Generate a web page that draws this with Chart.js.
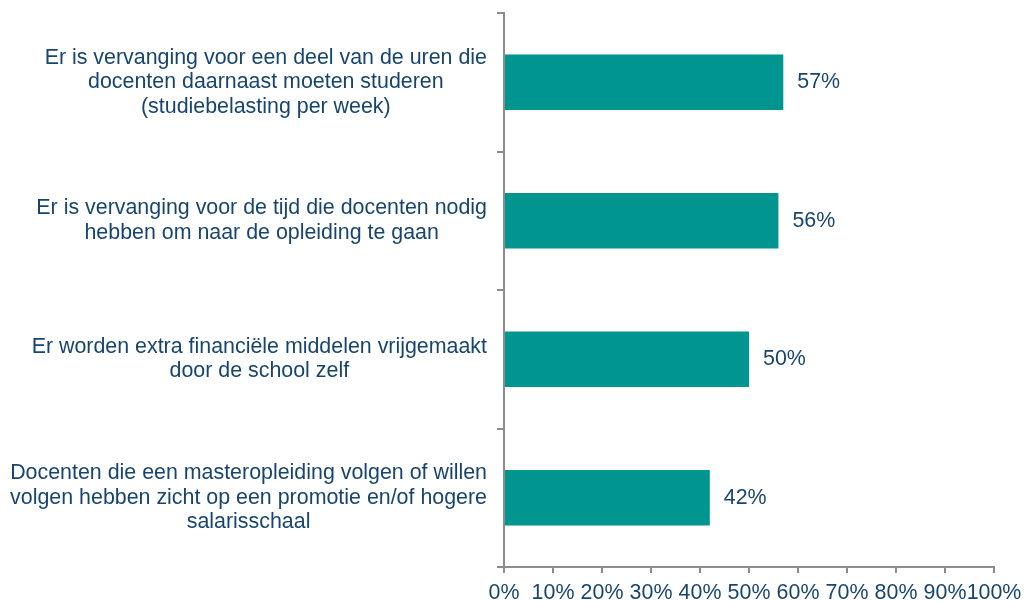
<!DOCTYPE html>
<html>
<head>
<meta charset="utf-8">
<script src="https://cdn.jsdelivr.net/npm/chart.js@4"></script>
<style>
  html, body { margin: 0; padding: 0; background: #fff; }
  #wrap { width: 1024px; height: 601px; }
</style>
</head>
<body>
<div id="wrap"><canvas id="chart" width="1024" height="601"></canvas></div>
<script>
// Statements (one per bar) and the share that agrees
const labels = [
  ['Er is vervanging voor een deel van de uren die', 'docenten daarnaast moeten studeren', '(studiebelasting per week)'],
  ['Er is vervanging voor de tijd die docenten nodig', 'hebben om naar de opleiding te gaan'],
  ['Er worden extra financiële middelen vrijgemaakt', 'door de school zelf'],
  ['Docenten die een masteropleiding volgen of willen', 'volgen hebben zicht op een promotie en/of hogere', 'salarisschaal']
];
const values = [57, 56, 50, 42];
const xTicks = [0, 10, 20, 30, 40, 50, 60, 70, 80, 90, 100];

const TEXT = '#17456F';
const BAR = '#00968F';
const AXIS = '#8C8C8C';
const FONT = '"Liberation Sans", Arial, sans-serif';
const SIZE = 21.4;

// draws the centred multi-line category labels left of the axis
const catLabels = {
  id: 'catLabels',
  afterDraw(chart) {
    const ctx = chart.ctx;
    const y = chart.scales.y;
    const right = y.right - 17;
    const lh = 24.5;
    ctx.save();
    ctx.font = SIZE + 'px ' + FONT;
    ctx.fillStyle = TEXT;
    ctx.textAlign = 'center';
    ctx.textBaseline = 'middle';
    labels.forEach((lines, i) => {
      const maxW = Math.max(...lines.map(l => ctx.measureText(l).width));
      const cx = right - maxW / 2;
      const cy = y.getPixelForValue(i);
      lines.forEach((l, k) => {
        ctx.fillText(l, cx, cy + (k - (lines.length - 1) / 2) * lh);
      });
    });
    ctx.restore();
  }
};

// value labels right of each bar
const valueLabels = {
  id: 'valueLabels',
  afterDatasetsDraw(chart) {
    const ctx = chart.ctx;
    const meta = chart.getDatasetMeta(0);
    ctx.save();
    ctx.font = SIZE + 'px ' + FONT;
    ctx.fillStyle = TEXT;
    ctx.textAlign = 'left';
    ctx.textBaseline = 'middle';
    meta.data.forEach((bar, i) => {
      ctx.fillText(values[i] + '%', bar.x + 14, bar.y);
    });
    ctx.restore();
  }
};

new Chart(document.getElementById('chart'), {
  type: 'bar',
  data: {
    labels: labels.map(l => l.join(' ')),
    datasets: [{
      data: values,
      backgroundColor: BAR,
      categoryPercentage: 1,
      barPercentage: 0.4
    }]
  },
  options: {
    indexAxis: 'y',
    responsive: false,
    animation: false,
    layout: { padding: { top: 13, right: 30, left: 0, bottom: 0 } },
    plugins: { legend: { display: false }, tooltip: { enabled: false } },
    scales: {
      x: {
        min: 0,
        max: 100,
        afterBuildTicks(scale) { scale.ticks = xTicks.map(v => ({ value: v })); },
        afterFit(scale) {
          scale.height = 34;
          scale.paddingLeft = 0;
          scale.paddingRight = 0;
        },
        border: { color: AXIS, width: 2 },
        grid: { drawOnChartArea: false, color: AXIS, lineWidth: 2, tickLength: 6 },
        ticks: {
          color: TEXT,
          font: { family: FONT, size: SIZE },
          padding: 7,
          maxRotation: 0,
          autoSkip: false,
          callback: v => v + '%'
        }
      },
      y: {
        afterFit(scale) { scale.width = 504; },
        border: { color: AXIS, width: 2 },
        grid: { drawOnChartArea: false, color: AXIS, lineWidth: 2, tickLength: 7, offset: true },
        ticks: { display: false }
      }
    }
  },
  plugins: [catLabels, valueLabels]
});
</script>
</body>
</html>
